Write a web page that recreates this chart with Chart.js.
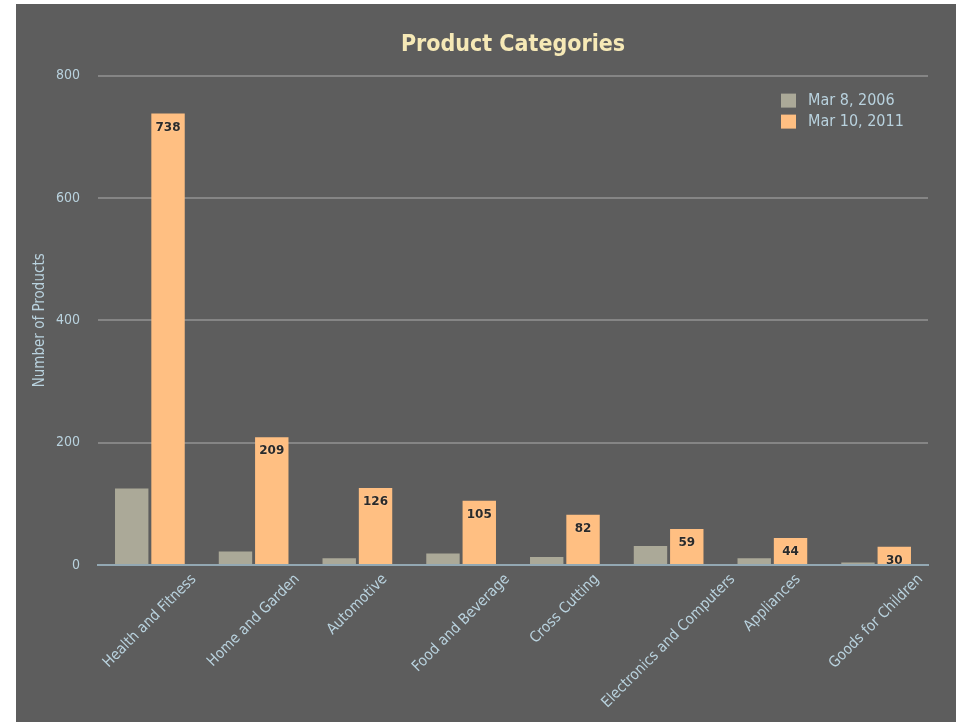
<!DOCTYPE html>
<html>
<head>
<meta charset="utf-8">
<title>Product Categories</title>
<script src="https://cdn.jsdelivr.net/npm/chart.js@4.4.1/dist/chart.umd.min.js"></script>
<style>
  html, body { margin: 0; padding: 0; background: #ffffff; }
  #box {
    position: absolute;
    left: 16px;
    top: 4px;
    width: 940px;
    height: 718px;
    background: #5d5d5d;
  }
</style>
</head>
<body>
<div id="box"><canvas id="popChart"></canvas></div>
<script>
"use strict";

// данные графика
var categories = [
  "Health and Fitness",
  "Home and Garden",
  "Automotive",
  "Food and Beverage",
  "Cross Cutting",
  "Electronics and Computers",
  "Appliances",
  "Goods for Children"
];
var seriesNames = ["Mar 8, 2006", "Mar 10, 2011"];
var values2006 = [125, 22, 11, 19, 13, 31, 11, 4];
var values2011 = [738, 209, 126, 105, 82, 59, 44, 30];
var yTicks = [0, 200, 400, 600, 800];

var grayColor = "#aba998";
var orangeColor = "#ffbf82";
var tickColor = "#b9d2de";
var fontName = "'DejaVu Sans Condensed', 'DejaVu Sans', sans-serif";

// подписи значений над оранжевыми столбцами
var valueLabels = {
  id: "valueLabels",
  afterDatasetsDraw: function(chart) {
    var ctx = chart.ctx;
    var meta = chart.getDatasetMeta(1);
    ctx.save();
    ctx.font = "bold 12px 'DejaVu Sans', sans-serif";
    ctx.textAlign = "center";
    ctx.textBaseline = "middle";
    ctx.shadowColor = "rgba(255,255,255,0.35)";
    ctx.shadowBlur = 2;
    ctx.fillStyle = "#2a2a2a";
    meta.data.forEach(function(bar, i) {
      ctx.fillText(String(values2011[i]), bar.x, bar.y + 14);
    });
    ctx.restore();
  }
};

// подписи категорий под 45 градусов, середина текста по центру категории
var slantLabels = {
  id: "slantLabels",
  afterDraw: function(chart) {
    var ctx = chart.ctx;
    var xScale = chart.scales.x;
    var bottom = chart.chartArea.bottom;
    var c = Math.SQRT1_2;
    ctx.save();
    ctx.font = "15px " + fontName;
    ctx.fillStyle = tickColor;
    ctx.textAlign = "right";
    ctx.textBaseline = "middle";
    categories.forEach(function(label, i) {
      var w = ctx.measureText(label).width;
      var cx = xScale.getPixelForValue(i);
      ctx.save();
      ctx.translate(cx + w / 2 * c, bottom + 12);
      ctx.rotate(-Math.PI / 4);
      ctx.fillText(label, 0, 0);
      ctx.restore();
    });
    ctx.restore();
  }
};

// легенда внутри области графика, справа сверху
var cornerLegend = {
  id: "cornerLegend",
  afterDraw: function(chart) {
    var ctx = chart.ctx;
    var area = chart.chartArea;
    var x = area.right - 147;
    var y = area.top + 18;
    ctx.save();
    ctx.font = "16px " + fontName;
    ctx.textBaseline = "middle";
    chart.data.datasets.forEach(function(ds, i) {
      var rowY = y + i * 21;
      ctx.fillStyle = ds.backgroundColor;
      ctx.fillRect(x, rowY, 15, 14);
      ctx.fillStyle = tickColor;
      ctx.fillText(ds.label, x + 27, rowY + 7);
    });
    ctx.restore();
  }
};

var ctx = document.getElementById("popChart").getContext("2d");

var popChart = new Chart(ctx, {
  type: "bar",
  data: {
    labels: categories,
    datasets: [{
      label: seriesNames[0],
      backgroundColor: grayColor,
      data: values2006,
      categoryPercentage: 0.7,
      barPercentage: 0.92
    }, {
      label: seriesNames[1],
      backgroundColor: orangeColor,
      data: values2011,
      categoryPercentage: 0.7,
      barPercentage: 0.92
    }]
  },
  plugins: [valueLabels, slantLabels, cornerLegend],
  options: {
    responsive: true,
    maintainAspectRatio: false,
    animation: false,
    layout: {
      padding: { left: 0, right: 28, top: 0, bottom: 0 }
    },
    plugins: {
      legend: { display: false },
      tooltip: { enabled: false },
      title: {
        display: true,
        text: "Product Categories",
        color: "#f6e9b6",
        fullSize: false,
        font: { family: fontName, size: 23, weight: "bold" },
        padding: { top: 27, bottom: 17 }
      }
    },
    scales: {
      x: {
        grid: { display: false },
        border: { display: true, color: "#93a8b3", width: 2 },
        ticks: { display: false },
        afterFit: function(scale) { scale.height = 157; }
      },
      y: {
        min: 0,
        max: 800,
        afterBuildTicks: function(scale) {
          scale.ticks = yTicks.map(function(v) { return { value: v }; });
        },
        grid: {
          drawTicks: false,
          lineWidth: 2,
          color: function(c) { return c.tick && c.tick.value === 0 ? "#93a8b3" : "#858585"; }
        },
        border: { display: false },
        ticks: {
          color: tickColor,
          font: { family: fontName, size: 14 },
          padding: 18
        },
        title: {
          display: true,
          text: "Number of Products",
          color: tickColor,
          font: { family: fontName, size: 15 },
          padding: { top: 15, bottom: 0 }
        },
        afterFit: function(scale) { scale.width = 82; }
      }
    }
  }
});
</script>
</body>
</html>
